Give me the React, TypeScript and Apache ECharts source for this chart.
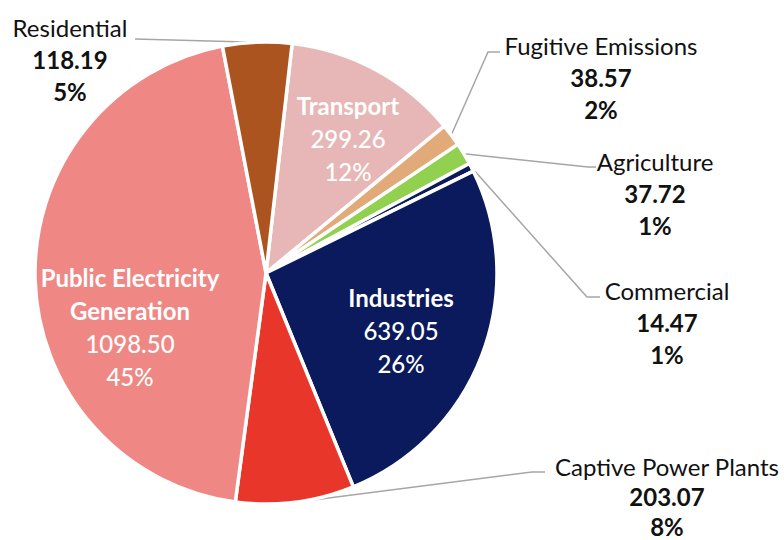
import React, { useEffect, useRef } from "react";
import * as echarts from "echarts";

const categories = [
  "Transport",
  "Fugitive Emissions",
  "Agriculture",
  "Commercial",
  "Industries",
  "Captive Power Plants",
  "Public Electricity Generation",
  "Residential",
];
const values = [299.26, 38.57, 37.72, 14.47, 639.05, 203.07, 1098.5, 118.19];
const percentLabels = ["12%", "2%", "1%", "1%", "26%", "8%", "45%", "5%"];
const colors = ["#E6B7B6", "#E2A979", "#92D050", "#0A1A5C", "#0A1A5C", "#E8372A", "#EF8884", "#AB5420"];
const insideLabel = [true, false, false, false, true, false, true, false];
const displayNames = [
  "Transport",
  "Fugitive Emissions",
  "Agriculture",
  "Commercial",
  "Industries",
  "Captive Power Plants",
  "Public Electricity\nGeneration",
  "Residential",
];

// label block centres (layout only)
const labelPos: Record<string, [number, number]> = {
  Transport: [348, 138],
  "Fugitive Emissions": [601, 77],
  Agriculture: [655, 193],
  Commercial: [667, 322],
  Industries: [401, 330],
  "Captive Power Plants": [667, 496],
  "Public Electricity Generation": [130, 327],
  Residential: [70, 59],
};
// leader line elbow / end points (layout only)
const linePts: Record<string, [number, number][]> = {
  "Fugitive Emissions": [[488, 52], [500, 52]],
  Agriculture: [[588, 167], [596, 167]],
  Commercial: [[587, 297], [600, 297]],
  "Captive Power Plants": [[532, 472], [545, 472]],
  Residential: [[135, 39], [135, 39]],
};

export default function App() {
  const ref = useRef<HTMLDivElement>(null);
  useEffect(() => {
    if (!ref.current) return;
    const chart = echarts.init(ref.current, undefined, { renderer: "svg" });
    const font = "Lato, 'Open Sans', sans-serif";
    const fs = 24;
    const data = categories.map((name, i) => {
      const inside = insideLabel[i];
      const lh = i === 5 ? 30 : 32;
      return {
        name,
        value: values[i],
        itemStyle: { color: colors[i] },
        label: inside
          ? {
              position: "inside",
              formatter: () =>
                displayNames[i]
                  .split("\n")
                  .map((s) => `{n|${s}}`)
                  .join("\n") +
                `\n{v|${values[i].toFixed(2)}}\n{v|${percentLabels[i]}}`,
              rich: {
                n: { color: "#fff", fontSize: fs, fontWeight: "bold", fontFamily: font, lineHeight: 33 },
                v: { color: "#fff", fontSize: fs, fontWeight: 500, fontFamily: font, lineHeight: 33 },
              },
            }
          : {
              position: "outside",
              formatter: () =>
                `{n|${displayNames[i]}}\n{v|${values[i].toFixed(2)}}\n{v|${percentLabels[i]}}`,
              rich: {
                n: { color: "#111", fontSize: fs, fontFamily: font, lineHeight: lh },
                v: { color: "#111", fontSize: fs, fontWeight: "bold", fontFamily: font, lineHeight: lh },
              },
            },
        labelLine: { show: !inside },
      };
    });
    chart.setOption({
      animation: false,
      backgroundColor: "#fff",
      series: [
        {
          type: "pie",
          center: [266, 273],
          radius: [0, 231],
          startAngle: 83.5,
          clockwise: true,
          avoidLabelOverlap: false,
          itemStyle: { borderColor: "#fff", borderWidth: 3.5 },
          labelLine: {
            lineStyle: { color: "#A6A6A6", width: 1.5 },
            length: 10,
            length2: 10,
          },
          emphasis: { disabled: true },
          data,
          labelLayout: (params: any) => {
            const name = categories[params.dataIndex];
            const pos = labelPos[name];
            const out: any = { x: pos[0], y: pos[1], align: "center", verticalAlign: "middle" };
            const extra = linePts[name];
            if (extra && params.labelLinePoints && params.labelLinePoints[0]) {
              out.labelLinePoints = [params.labelLinePoints[0], extra[0], extra[1]];
            }
            return out;
          },
        },
      ],
    });
    return () => chart.dispose();
  }, []);
  return (
    <div
      ref={ref}
      style={{ position: "absolute", left: 0, top: 0, width: 784, height: 540 }}
    />
  );
}
